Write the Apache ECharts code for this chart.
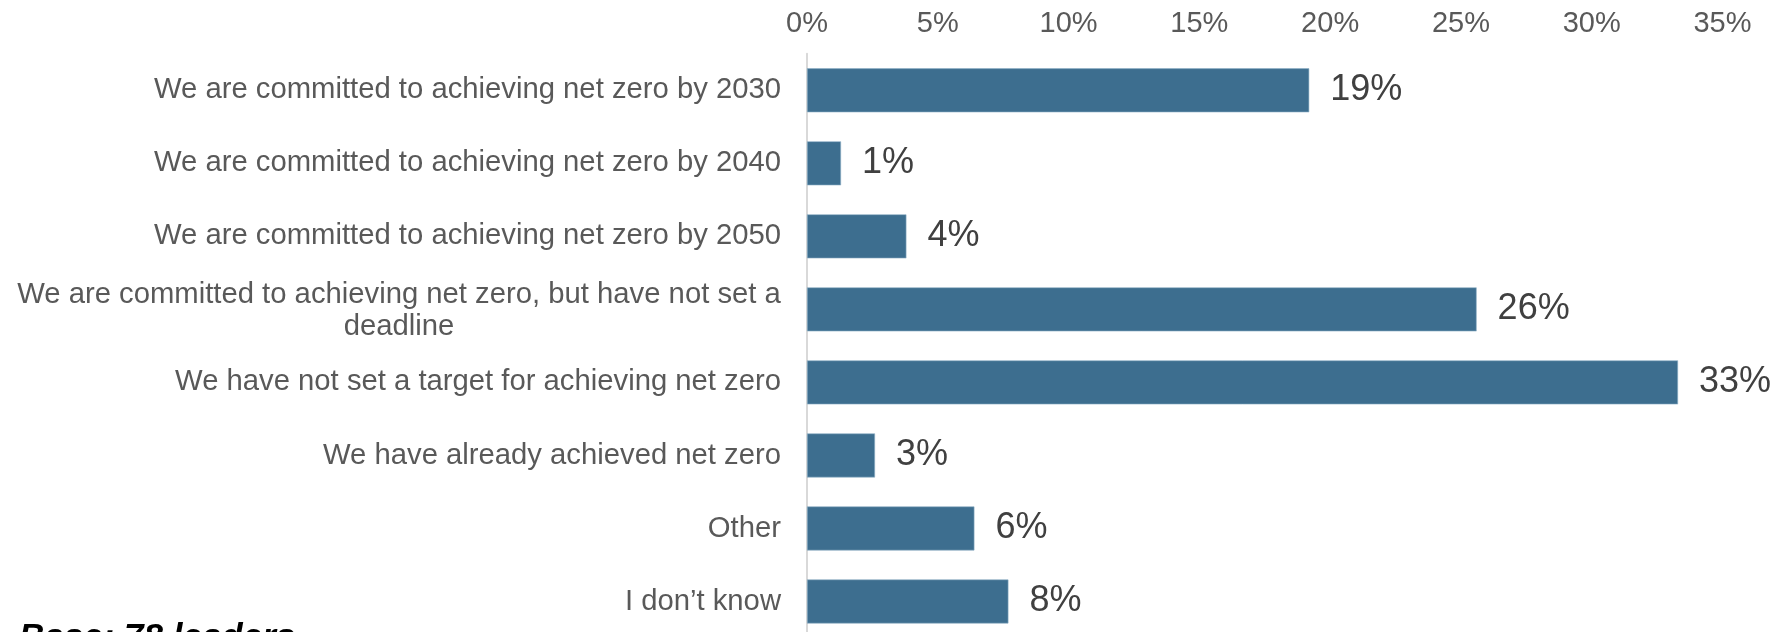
<!DOCTYPE html>
<html>
<head>
<meta charset="utf-8">
<script src="https://cdn.jsdelivr.net/npm/echarts@6/dist/echarts.min.js"></script>
<style>
html,body{margin:0;padding:0;background:#fff;}
#chart{width:1781px;height:632px;}
</style>
</head>
<body>
<div id="chart"></div>
<script>
const categories = [
  'We are committed to achieving net zero by 2030',
  'We are committed to achieving net zero by 2040',
  'We are committed to achieving net zero by 2050',
  'We are committed to achieving net zero, but have not set a\ndeadline',
  'We have not set a target for achieving net zero',
  'We have already achieved net zero',
  'Other',
  'I don\u2019t know'
];
const values = [19.2, 1.3, 3.8, 25.6, 33.3, 2.6, 6.4, 7.7];
const tickLabels = ['0%', '5%', '10%', '15%', '20%', '25%', '30%', '35%'];
const baseNote = 'Base: 78 leaders';

const FONT = '"Liberation Sans", Arial, sans-serif';
const CAT_SIZE = 29.25;

// measure widest line of multi-line labels so lines can be centred inside a right-aligned block
const ctx = document.createElement('canvas').getContext('2d');
ctx.font = CAT_SIZE + 'px ' + FONT;
function blockWidth(s) {
  return Math.ceil(Math.max.apply(null, s.split('\n').map(function (l) { return ctx.measureText(l).width; })));
}

const chart = echarts.init(document.getElementById('chart'), null, {renderer: 'canvas'});

chart.setOption({
  animation: false,
  backgroundColor: '#ffffff',
  grid: {left: 807, right: 58.5, top: 53.8, height: 584.2, containLabel: false, outerBoundsMode: 'none'},
  xAxis: {
    type: 'value',
    position: 'top',
    min: 0,
    max: 35,
    interval: 5,
    axisLine: {show: false},
    axisTick: {show: false},
    splitLine: {show: false},
    axisLabel: {
      margin: 15,
      fontFamily: FONT,
      fontSize: 29,
      color: '#595959',
      formatter: function (v) { return tickLabels[Math.round(v / 5)]; }
    }
  },
  yAxis: {
    type: 'category',
    inverse: true,
    data: categories,
    axisLine: {show: true, lineStyle: {color: '#d9d9d9', width: 2}},
    axisTick: {show: false},
    splitLine: {show: false},
    axisLabel: {
      margin: 26,
      fontFamily: FONT,
      fontSize: CAT_SIZE,
      color: '#595959',
      lineHeight: 32,
      formatter: function (v) {
        if (v.indexOf('\n') >= 0) {
          return v.split('\n').map(function (s) { return '{c|' + s + '}'; }).join('\n');
        }
        return v;
      },
      rich: {
        c: {width: blockWidth(categories[3]), align: 'center', fontFamily: FONT, fontSize: CAT_SIZE, color: '#595959', lineHeight: 32, padding: [3, 0, 0, 0]}
      }
    }
  },
  series: [{
    type: 'bar',
    data: values,
    barWidth: 44,
    itemStyle: {color: '#3d6e8f', borderColor: '#8fb0c6', borderWidth: 0.6},
    label: {
      show: true,
      position: 'right',
      distance: 21,
      fontFamily: FONT,
      fontSize: 36,
      color: '#404040',
      formatter: function (p) { return Math.round(p.value) + '%'; }
    }
  }],
  graphic: [{
    type: 'text',
    left: 19,
    top: 621,
    style: {
      text: baseNote,
      font: 'italic bold 35px "Liberation Sans", Arial, sans-serif',
      fill: '#000000'
    }
  }]
});
</script>
</body>
</html>
